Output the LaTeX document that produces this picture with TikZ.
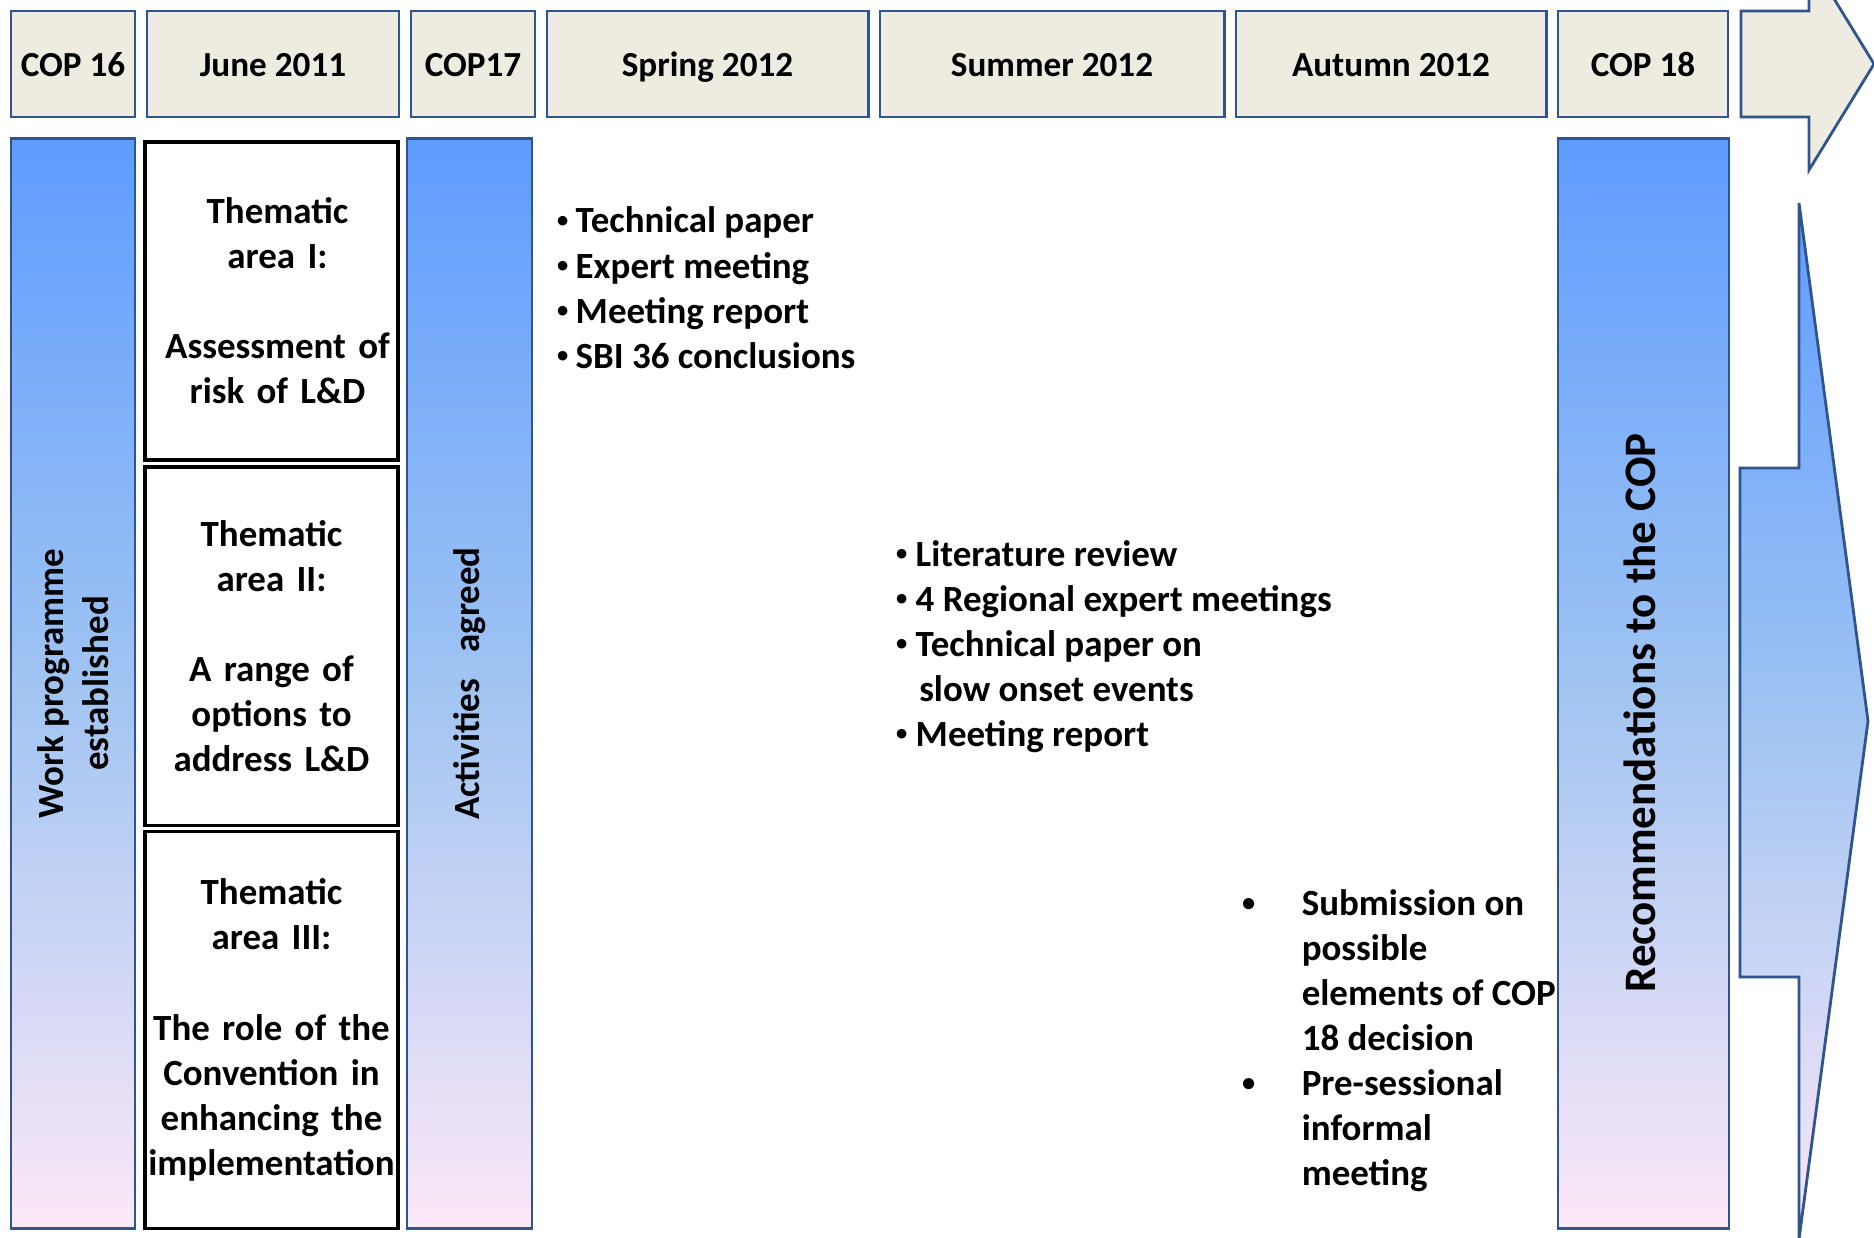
\documentclass[tikz,border=0pt]{standalone}
\usepackage{fontspec}
\setmainfont{Carlito}
\usetikzlibrary{positioning}

\definecolor{cborder}{RGB}{47,85,140}
\definecolor{chead}{RGB}{238,236,225}
\definecolor{cbartop}{RGB}{94,156,255}
\definecolor{cbarmid}{RGB}{160,196,242}
\definecolor{cbarbot}{RGB}{252,232,248}

\newcommand{\bfbody}{\fontsize{10.5}{12.8}\selectfont\bfseries}
% small bullets, as in the slide
\newcommand{\sbul}{\raisebox{1.5pt}{\fontsize{6.4}{7}\selectfont\textbullet}}
\newcommand{\mbul}{\raisebox{1.1pt}{\fontsize{7.5}{8}\selectfont\textbullet}}

\begin{document}
\begin{tikzpicture}[x=0.01cm, y=-0.01cm,
    hdr/.style={draw=cborder, fill=chead, line width=0.8pt, inner sep=0pt,
      minimum height=1.06cm, text height=7pt, text depth=0pt,
      font=\fontsize{10}{12}\selectfont\bfseries},
    bar/.style={draw=cborder, line width=0.8pt, inner sep=0pt, minimum height=10.89cm,
      top color=cbartop, bottom color=cbarbot, middle color=cbarmid},
    theme/.style={draw=black, line width=1pt, fill=white, inner sep=0pt, outer sep=0pt,
      text width=2.53cm, align=center, font=\bfbody},
    vlabel/.style={rotate=90, align=center, font=\bfbody},
    blist/.style={anchor=base west, inner sep=0pt, font=\bfbody}]

  \useasboundingbox (0,0) rectangle (1874,1237);
  \clip (0,0) rectangle (1874,1237);

  % Timeline header
  \node[hdr, minimum width=1.24cm] (cop16) at (73,64) {COP 16};
  \node[hdr, minimum width=2.52cm] (jun11) at (273,64) {June 2011};
  \node[hdr, minimum width=1.24cm] (cop17) at (473,64) {COP17};
  \node[hdr, minimum width=3.21cm] (spr12) at (707.5,64) {Spring 2012};
  \node[hdr, minimum width=3.44cm] (sum12) at (1052,64) {Summer 2012};
  \node[hdr, minimum width=3.10cm] (aut12) at (1391,64) {Autumn 2012};
  \node[hdr, minimum width=1.70cm] (cop18) at (1643,64) {COP 18};
  \draw[cborder, fill=chead, line width=0.8pt]
    (1741,11) -- (1809,11) -- (1809,-42) -- (1874,64) --
    (1809,170) -- (1809,117) -- (1741,117) -- cycle;

  % Shaded columns
  \node[bar, minimum width=1.24cm] (wp) at (73,683.5) {};
  \node[bar, minimum width=1.25cm] (act) at (469.5,683.5) {};
  \node[bar, minimum width=1.71cm] (rec) at (1643.5,683.5) {};
  \node[vlabel] (wptext) at (wp.center) {Work programme\\established};
  \node[vlabel] (acttext) at (act.center) {Activities\hspace{7.5pt}agreed};
  \node[vlabel, font=\fontsize{12.8}{15}\selectfont\bfseries] (rectext) at (1640,713)
    {Recommendations to the COP};

  % Thematic areas
  \node[theme, minimum height=3.18cm] (th1) at (271.5,301)
    {\hspace*{0.12cm}Thematic\\\hspace*{0.12cm}area I:\\[12.8pt]\hspace*{0.12cm}Assessment of\\\hspace*{0.12cm}risk of L\&D};
  \node[theme, minimum height=3.58cm, below=0.07cm of th1] (th2)
    {Thematic\\area II:\\[12.8pt]A range of\\options to\\address L\&D};
  \node[theme, minimum height=3.97cm, below=0.06cm of th2] (th3)
    {Thematic\\area III:\\[12.8pt]The role of the\\Convention in\\enhancing the\\implementation};

  % Activities per period
  \node[blist] (spring) at (549,233) {\begin{tabular}[t]{@{}c@{}l@{}}
    \makebox[0.26cm]{\sbul} & Technical paper\\
    \makebox[0.26cm]{\sbul} & Expert meeting\\
    \makebox[0.26cm]{\sbul} & Meeting report\\
    \makebox[0.26cm]{\sbul} & SBI 36 conclusions
  \end{tabular}};
  \node[blist] (summer) at (887,566) {\begin{tabular}[t]{@{}c@{}l@{}}
    \makebox[0.28cm]{\sbul} & Literature review\\
    \makebox[0.28cm]{\sbul} & 4 Regional expert meetings\\
    \makebox[0.28cm]{\sbul} & Technical paper on\\
                            & \hspace{1pt}slow onset events\\
    \makebox[0.28cm]{\sbul} & Meeting report
  \end{tabular}};
  \node[blist] (autumn) at (1195,915) {\begin{tabular}[t]{@{}c@{}l@{}}
    \makebox[1.06cm]{\mbul} & Submission on\\
                            & possible\\
                            & elements of COP\\
                            & 18 decision\\
    \makebox[1.06cm]{\mbul} & Pre-sessional\\
                            & informal\\
                            & meeting
  \end{tabular}};

  % Big arrow towards COP 18
  \draw[cborder, line width=0.8pt, top color=cbartop, bottom color=cbarbot, middle color=cbarmid]
    (1740,468) -- (1799,468) -- (1799,203) -- (1868,721) --
    (1799,1239) -- (1799,977) -- (1740,977) -- cycle;
\end{tikzpicture}
\end{document}
